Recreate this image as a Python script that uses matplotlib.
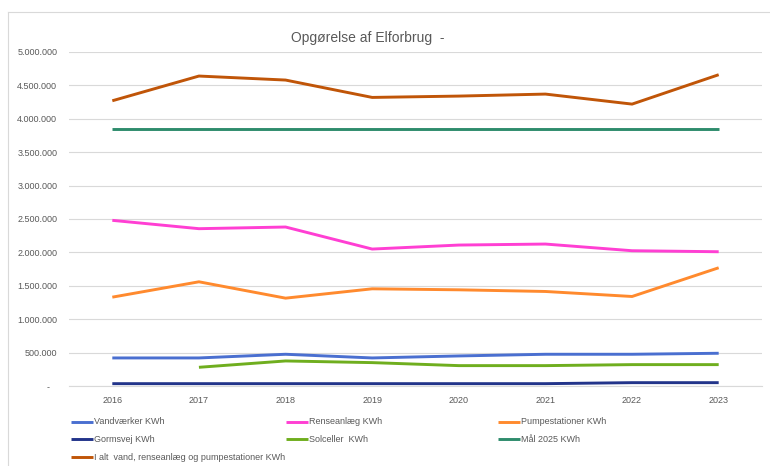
import numpy as np
import matplotlib
matplotlib.use("Agg")
import matplotlib.pyplot as plt
from matplotlib.lines import Line2D
from matplotlib.ticker import FuncFormatter

plt.rcParams['font.family'] = ['Liberation Sans', 'DejaVu Sans']

years = ['2016', '2017', '2018', '2019', '2020', '2021', '2022', '2023']
vandvaerker = [420000, 420000, 475000, 420000, 450000, 475000, 475000, 490000]
renseanlaeg = [2480000, 2355000, 2380000, 2050000, 2110000, 2125000, 2025000, 2010000]
pumpestationer = [1330000, 1560000, 1315000, 1455000, 1440000, 1415000, 1340000, 1770000]
gormsvej = [35000, 35000, 35000, 35000, 35000, 35000, 50000, 50000]
solceller = [np.nan, 280000, 375000, 350000, 305000, 305000, 320000, 320000]
maal2025 = [3850000] * 8
i_alt = [4270000, 4640000, 4580000, 4320000, 4340000, 4370000, 4220000, 4660000]

names = ['Vandværker KWh', 'Renseanlæg KWh', 'Pumpestationer KWh',
         'Gormsvej KWh', 'Solceller  KWh', 'Mål 2025 KWh',
         'I alt  vand, renseanlæg og pumpestationer KWh']
series = [vandvaerker, renseanlaeg, pumpestationer, gormsvej, solceller, maal2025, i_alt]
colors = ['#4A6FD0', '#FF3FD3', '#FF8A2E', '#22348A', '#6FAE1E', '#2E8C6C', '#C05508']
yticks = [0, 500000, 1000000, 1500000, 2000000, 2500000, 3000000, 3500000, 4000000, 4500000, 5000000]

W, H = 770, 466
fig = plt.figure(figsize=(W / 100, H / 100), dpi=100)
ax = fig.add_axes([69 / W, (H - 386) / H, (762 - 69) / W, (386 - 52) / H])

x = np.arange(len(years))
for vals, c in zip(series, colors):
    ax.plot(x, vals, color=c, lw=2.1, solid_capstyle='butt')

ax.set_xlim(-0.5, len(years) - 0.5)
ax.set_ylim(0, 5000000)
ax.set_xticks(x)
ax.set_xticklabels(years)
ax.set_yticks(yticks)

def fmt(v, pos):
    if v == 0:
        return '-   '
    return f"{int(v):,}".replace(',', '.')

ax.yaxis.set_major_formatter(FuncFormatter(fmt))
ax.tick_params(axis='both', length=0, labelsize=6.5, labelcolor='#595959')
ax.tick_params(axis='y', pad=8.5)
ax.tick_params(axis='x', pad=7)
ax.grid(axis='y', color='#d9d9d9', lw=0.8)
ax.set_axisbelow(True)
for s in ['left', 'right', 'top']:
    ax.spines[s].set_visible(False)
ax.spines['bottom'].set_color('#d9d9d9')
ax.spines['bottom'].set_linewidth(0.8)

fig.text(291 / W, (H - 38) / H, 'Opgørelse af Elforbrug  -', fontsize=10,
         color='#595959', ha='left', va='center')

# chart border
fig.add_artist(Line2D([8 / W, 8 / W], [0, (H - 12) / H], color='#d9d9d9', lw=0.8))
fig.add_artist(Line2D([8 / W, 1], [(H - 12) / H, (H - 12) / H], color='#d9d9d9', lw=0.8))

# legend
col_x = [71, 286, 498]
row_y = [421.5, 439.3, 457.3]
for i, (name, c) in enumerate(zip(names, colors)):
    cx = col_x[i % 3]
    ry = row_y[i // 3]
    fig.add_artist(Line2D([cx / W, (cx + 22) / W], [(H - ry) / H, (H - ry) / H],
                          color=c, lw=2.1, solid_capstyle='butt'))
    fig.text((cx + 23) / W, (H - ry) / H, name, fontsize=6.5, color='#595959',
             ha='left', va='center')

fig.savefig('out.png', dpi=100)
